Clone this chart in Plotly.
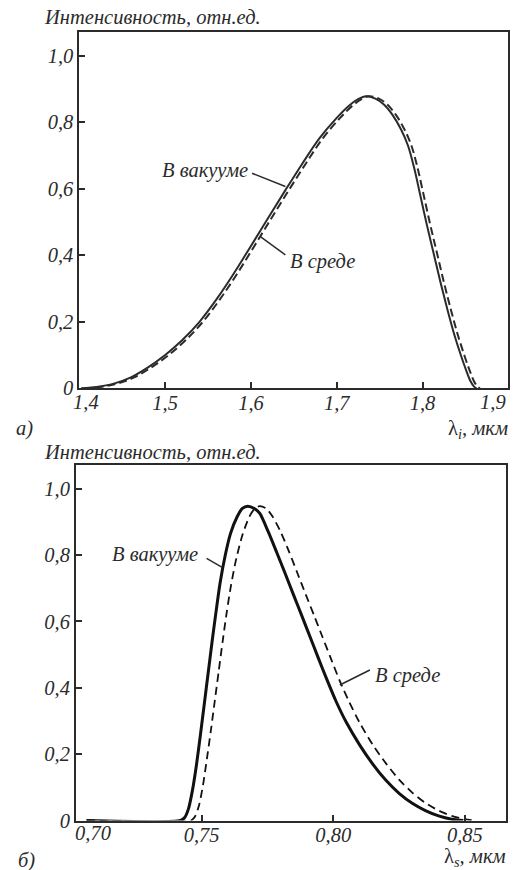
import plotly.graph_objects as go

# ---------------- data ----------------
# Panel a) idler wavelength, micrometres
top_vac_x = [1.402, 1.42, 1.44, 1.46, 1.48, 1.50, 1.52, 1.54, 1.56, 1.58, 1.60, 1.62,
             1.64, 1.66, 1.68, 1.70, 1.715, 1.725, 1.7336, 1.745, 1.755, 1.765, 1.775, 1.783,
             1.790, 1.797, 1.805, 1.813, 1.821, 1.829, 1.837, 1.845, 1.851, 1.856, 1.860, 1.863]
top_vac_y = [0, 0.004, 0.014, 0.033, 0.063, 0.100, 0.145, 0.200, 0.268, 0.345, 0.428, 0.512,
             0.595, 0.676, 0.752, 0.813, 0.851, 0.869, 0.878, 0.871, 0.853, 0.822, 0.778, 0.730,
             0.665, 0.585, 0.492, 0.405, 0.318, 0.237, 0.162, 0.097, 0.053, 0.021, 0.005, 0]
top_med_x = [1.405, 1.424, 1.444, 1.464, 1.484, 1.504, 1.524, 1.544, 1.564, 1.584, 1.604, 1.624,
             1.644, 1.664, 1.684, 1.704, 1.719, 1.729, 1.737, 1.749, 1.759, 1.769, 1.779, 1.787,
             1.794, 1.801, 1.809, 1.817, 1.825, 1.833, 1.841, 1.849, 1.855, 1.860, 1.864, 1.867]
top_med_y = [0, 0.004, 0.014, 0.033, 0.063, 0.100, 0.145, 0.200, 0.268, 0.345, 0.428, 0.512,
             0.595, 0.676, 0.752, 0.813, 0.851, 0.869, 0.878, 0.871, 0.853, 0.822, 0.778, 0.730,
             0.665, 0.585, 0.492, 0.405, 0.318, 0.237, 0.162, 0.097, 0.053, 0.021, 0.005, 0]

# Panel б) signal wavelength, micrometres
bot_vac_x = [0.7063, 0.7420, 0.7435, 0.7450, 0.7465, 0.7480, 0.7495, 0.7510, 0.7525, 0.7540,
             0.7555, 0.7570, 0.7590, 0.7610, 0.7635, 0.7655, 0.7675, 0.7700, 0.7721, 0.7753,
             0.7785, 0.7817, 0.7848, 0.7880, 0.7911, 0.7943, 0.7974, 0.8010, 0.8050, 0.8100,
             0.8150, 0.8200, 0.8250, 0.8300, 0.8350, 0.8400, 0.8450, 0.8494]
bot_vac_y = [0, 0, 0.008, 0.035, 0.090, 0.165, 0.255, 0.350, 0.445, 0.540,
             0.630, 0.715, 0.800, 0.865, 0.915, 0.940, 0.947, 0.940, 0.925, 0.870,
             0.808, 0.745, 0.682, 0.618, 0.555, 0.490, 0.428, 0.360, 0.295, 0.228,
             0.170, 0.121, 0.082, 0.052, 0.030, 0.014, 0.004, 0]
bot_med_x = [0.7063, 0.7460, 0.7475, 0.7490, 0.7505, 0.7520, 0.7535, 0.7550, 0.7565, 0.7580,
             0.7595, 0.7612, 0.7632, 0.7655, 0.7680, 0.7700, 0.7720, 0.7745, 0.7770, 0.7800,
             0.7832, 0.7864, 0.7895, 0.7927, 0.7958, 0.7990, 0.8025, 0.8060, 0.8100, 0.8150,
             0.8200, 0.8250, 0.8300, 0.8350, 0.8400, 0.8450, 0.8500, 0.8538]
bot_med_y = [0, 0, 0.012, 0.045, 0.105, 0.185, 0.270, 0.360, 0.450, 0.540,
             0.625, 0.710, 0.790, 0.860, 0.913, 0.938, 0.947, 0.940, 0.915, 0.870,
             0.810, 0.745, 0.682, 0.618, 0.555, 0.490, 0.420, 0.358, 0.295, 0.228,
             0.172, 0.123, 0.084, 0.053, 0.030, 0.014, 0.004, 0]

# ticks
y_tick_vals = [0, 0.2, 0.4, 0.6, 0.8, 1.0]
y_tick_text = ["0", "0,2", "0,4", "0,6", "0,8", "1,0"]
top_x_tick_vals = [1.4, 1.5, 1.6, 1.7, 1.8, 1.9]
top_x_tick_text = ["1,4", "1,5", "1,6", "1,7", "1,8", "1,9"]
bot_x_min = 0.7023
bot_x_tick_vals = [bot_x_min, 0.75, 0.80, 0.85]
bot_x_tick_text = ["0,70", "0,75", "0,80", "0,85"]

labels = ["В вакууме", "В среде"]

# ---------------- figure ----------------
W, H = 515, 870
INK = "#2b2b2b"
FONT = "Liberation Serif, Times New Roman, Tinos, DejaVu Serif, serif"
FS = 20.5

def px_x(p):
    return p / W

def px_y(p):
    return 1 - p / H

fig = go.Figure()
fig.add_trace(go.Scatter(x=top_vac_x, y=top_vac_y, mode="lines", xaxis="x", yaxis="y",
                         line=dict(color=INK, width=2, shape="spline", smoothing=1)))
fig.add_trace(go.Scatter(x=top_med_x, y=top_med_y, mode="lines", xaxis="x", yaxis="y",
                         line=dict(color=INK, width=2, dash="8px,4px", shape="spline", smoothing=1)))
fig.add_trace(go.Scatter(x=bot_vac_x, y=bot_vac_y, mode="lines", xaxis="x2", yaxis="y2",
                         line=dict(color="#111111", width=3, shape="spline", smoothing=0.7)))
fig.add_trace(go.Scatter(x=bot_med_x, y=bot_med_y, mode="lines", xaxis="x2", yaxis="y2",
                         line=dict(color="#111111", width=1.8, dash="8px,5px", shape="spline", smoothing=0.7)))

tickfont = dict(family=FONT, size=FS, color=INK, style="italic")
axis_common = dict(showline=True, mirror=True, linecolor=INK, linewidth=2,
                   ticks="inside", ticklen=6, tickwidth=1.5, tickcolor=INK,
                   showgrid=False, zeroline=False, automargin=False,
                   ticklabeloverflow="allow", tickfont=tickfont)

# the end labels (1,4 / 1,9 and 0,70) sit inside the frame in the reference -> drawn as annotations
top_axis_text = [""] + top_x_tick_text[1:-1] + [""]
bot_axis_text = [""] + bot_x_tick_text[1:]

fig.update_layout(
    width=W, height=H, margin=dict(l=0, r=0, t=0, b=0, autoexpand=False),
    paper_bgcolor="white", plot_bgcolor="white", showlegend=False,
    xaxis=dict(domain=[px_x(79.4), px_x(508.3)], range=[1.4, 1.9], anchor="y",
               tickmode="array", tickvals=top_x_tick_vals, ticktext=top_axis_text,
               ticklabelstandoff=-5, **axis_common),
    yaxis=dict(domain=[px_y(388.3), px_y(31.7)], range=[0, 1.072], anchor="x",
               tickmode="array", tickvals=y_tick_vals, ticktext=y_tick_text, **axis_common),
    xaxis2=dict(domain=[px_x(76), px_x(506)], range=[bot_x_min, 0.8656], anchor="y2",
                tickmode="array", tickvals=bot_x_tick_vals, ticktext=bot_axis_text,
                ticklabelstandoff=-5, **axis_common),
    yaxis2=dict(domain=[px_y(820.5), px_y(465)], range=[0, 1.071], anchor="x2",
                tickmode="array", tickvals=y_tick_vals, ticktext=y_tick_text, **axis_common),
)

tfont = dict(family=FONT, size=FS, color=INK, style="italic")
ann = []
for ytxt in (17, 452):
    ann.append(dict(text="Интенсивность, отн.ед.", x=px_x(42), y=px_y(ytxt), xref="paper", yref="paper",
                    xanchor="left", yanchor="middle", showarrow=False, font=tfont))
ann.append(dict(text="а)", x=px_x(14), y=px_y(428), xref="paper", yref="paper",
                xanchor="left", yanchor="middle", showarrow=False, font=tfont))
ann.append(dict(text="б)", x=px_x(16), y=px_y(860), xref="paper", yref="paper",
                xanchor="left", yanchor="middle", showarrow=False, font=tfont))
ann.append(dict(text="λ<sub><i>i</i></sub><i>, мкм</i>", x=px_x(510), y=px_y(430), xref="paper", yref="paper",
                xanchor="right", yanchor="middle", showarrow=False,
                font=dict(family=FONT, size=FS, color=INK)))
ann.append(dict(text="λ<sub><i>s</i></sub><i>, мкм</i>", x=px_x(508), y=px_y(857), xref="paper", yref="paper",
                xanchor="right", yanchor="middle", showarrow=False,
                font=dict(family=FONT, size=FS, color=INK)))
# end tick labels
ann.append(dict(text=top_x_tick_text[0], x=top_x_tick_vals[0], y=px_y(402), xref="x", yref="paper",
                xanchor="left", yanchor="middle", xshift=-8, showarrow=False, font=tickfont))
ann.append(dict(text=top_x_tick_text[-1], x=top_x_tick_vals[-1], y=px_y(402), xref="x", yref="paper",
                xanchor="right", yanchor="middle", xshift=0, showarrow=False, font=tickfont))
ann.append(dict(text=bot_x_tick_text[0], x=bot_x_tick_vals[0], y=px_y(833), xref="x2", yref="paper",
                xanchor="left", yanchor="middle", xshift=-3, showarrow=False, font=tickfont))
# curve labels
ann.append(dict(text=labels[0], x=1.5993, y=0.656, xref="x", yref="y", xanchor="right", yanchor="middle",
                showarrow=False, font=tfont))
ann.append(dict(text=labels[1], x=1.6437, y=0.3797, xref="x", yref="y", xanchor="left", yanchor="middle",
                showarrow=False, font=tfont))
ann.append(dict(text=labels[0], x=0.74935, y=0.8027, xref="x2", yref="y2", xanchor="right", yanchor="middle",
                showarrow=False, font=tfont))
ann.append(dict(text=labels[1], x=0.8152, y=0.4383, xref="x2", yref="y2", xanchor="left", yanchor="middle",
                showarrow=False, font=tfont))
fig.update_layout(annotations=ann)

lead = dict(color=INK, width=1.5)
fig.add_shape(type="line", xref="x", yref="y", x0=1.6013, y0=0.6464, x1=1.6401, y1=0.6067, line=lead)
fig.add_shape(type="line", xref="x", yref="y", x0=1.611, y0=0.4558, x1=1.6401, y1=0.4008, line=lead)
fig.add_shape(type="line", xref="x2", yref="y2", x0=0.7519, y0=0.7898, x1=0.7578, y1=0.7627, line=lead)
fig.add_shape(type="line", xref="x2", yref="y2", x0=0.8139, y0=0.4533, x1=0.8025, y1=0.4081, line=lead)

fig.write_html("out.html", config={"displayModeBar": False},
               post_script="document.body.style.margin='0';document.body.style.padding='0';"
                           "document.documentElement.style.overflow='hidden';")
